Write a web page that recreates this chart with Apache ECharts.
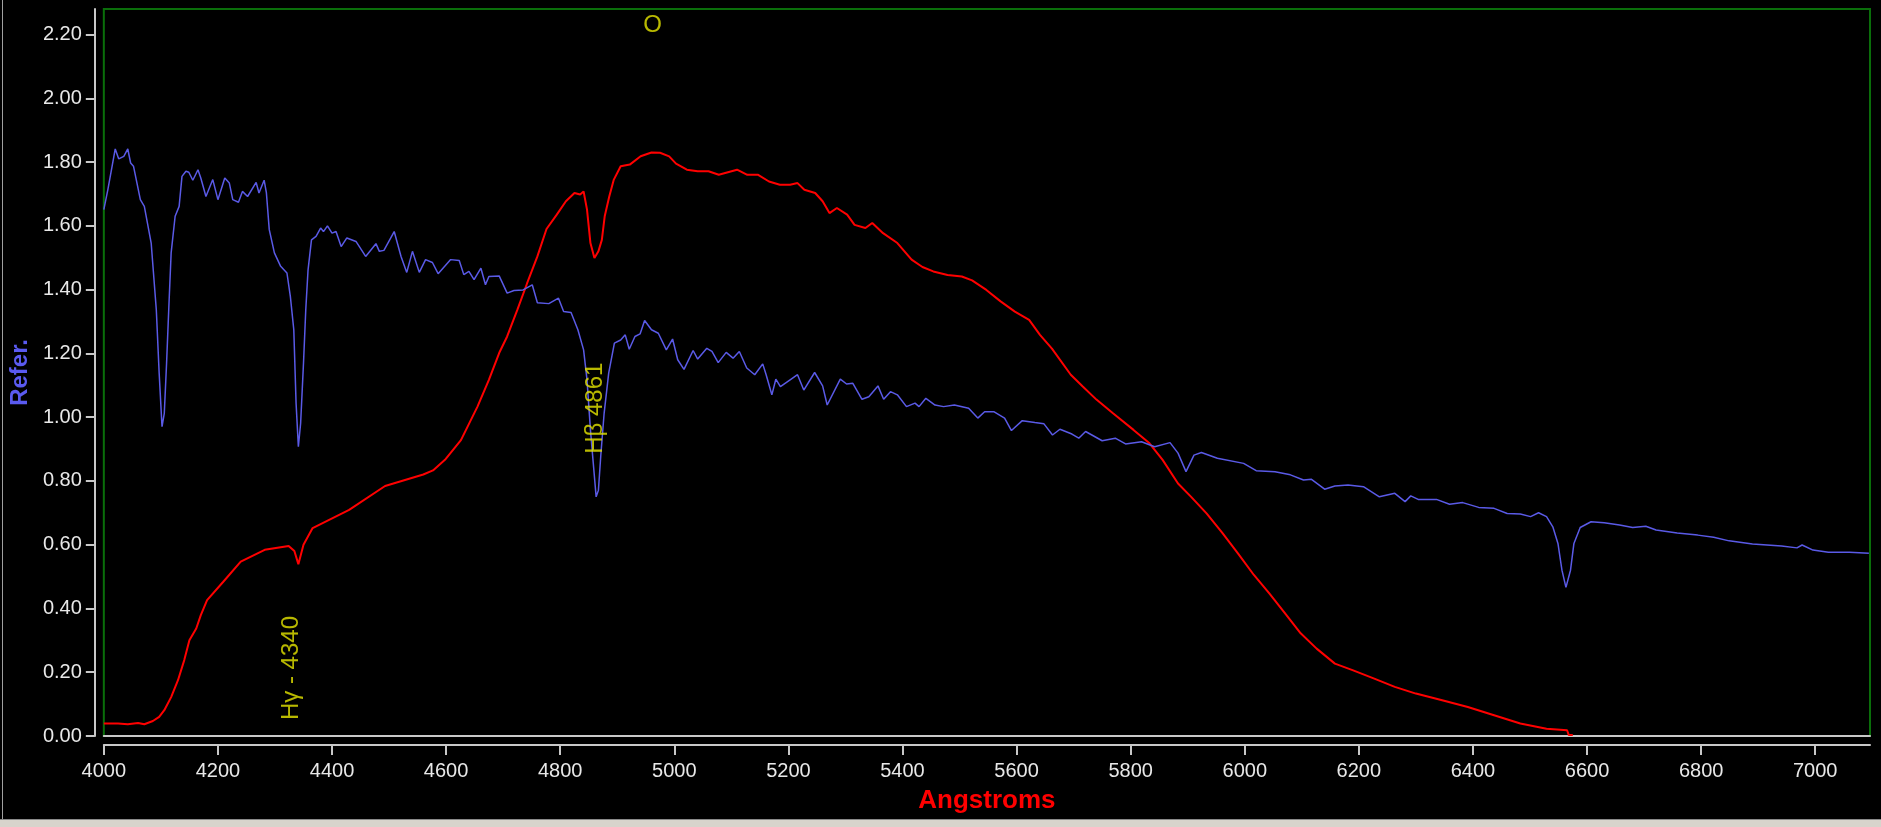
<!DOCTYPE html>
<html>
<head>
<meta charset="utf-8">
<title>Spectrum</title>
<script src="https://cdn.jsdelivr.net/npm/echarts@6/dist/echarts.min.js"></script>
<style>
  html, body { margin: 0; padding: 0; background: #000; }
  #chart { width: 1881px; height: 827px; }
</style>
</head>
<body>
<div id="chart"></div>
<script>
// reference spectrum (blue)
const refWave = [4000, 4007, 4020, 4026, 4035, 4042, 4047, 4052, 4064, 4071, 4083, 4092, 4097, 4102, 4106, 4110, 4114, 4118, 4125, 4132,
  4137, 4144, 4149, 4156, 4165, 4170, 4179, 4191, 4200, 4212, 4220, 4226, 4236, 4243, 4252, 4267, 4272, 4281, 4285, 4290,
  4299, 4310, 4321, 4327, 4333, 4337, 4341, 4345, 4350, 4354, 4358, 4364, 4372, 4380, 4385, 4392, 4400, 4407, 4416, 4426,
  4442, 4459, 4477, 4483, 4491, 4509, 4521, 4531, 4541, 4553, 4564, 4576, 4586, 4608, 4623, 4631, 4640, 4649, 4661, 4669,
  4675, 4693, 4707, 4719, 4735, 4751, 4760, 4780, 4797, 4806, 4819, 4831, 4841, 4847, 4853, 4858, 4863, 4867, 4871, 4877,
  4885, 4895, 4906, 4914, 4921, 4931, 4940, 4948, 4960, 4972, 4986, 4997, 5006, 5017, 5033, 5041, 5057, 5066, 5077, 5091,
  5103, 5114, 5127, 5141, 5155, 5161, 5171, 5178, 5186, 5203, 5216, 5227, 5246, 5260, 5268, 5291, 5302, 5313, 5329, 5341,
  5357, 5367, 5379, 5391, 5407, 5422, 5429, 5441, 5457, 5472, 5491, 5516, 5532, 5544, 5560, 5579, 5591, 5610, 5632, 5648,
  5663, 5676, 5697, 5709, 5721, 5750, 5773, 5791, 5819, 5842, 5869, 5883, 5897, 5911, 5924, 5952, 5998, 6020, 6053, 6080,
  6103, 6117, 6140, 6158, 6181, 6208, 6236, 6263, 6281, 6291, 6304, 6336, 6359, 6382, 6410, 6437, 6460, 6483, 6501, 6515,
  6529, 6540, 6549, 6556, 6563, 6571, 6577, 6588, 6607, 6630, 6657, 6680, 6703, 6721, 6758, 6794, 6822, 6849, 6890, 6941,
  6968, 6977, 6996, 7023, 7060, 7094];
const refFlux = [1.651, 1.713, 1.841, 1.810, 1.818, 1.841, 1.797, 1.787, 1.682, 1.661, 1.546, 1.337, 1.138, 0.970, 1.012, 1.169, 1.347, 1.515, 1.630, 1.661,
  1.755, 1.771, 1.768, 1.743, 1.776, 1.750, 1.692, 1.745, 1.682, 1.750, 1.734, 1.682, 1.674, 1.708, 1.692, 1.736, 1.703, 1.743, 1.703, 1.588,
  1.515, 1.473, 1.452, 1.378, 1.274, 1.044, 0.907, 0.981, 1.169, 1.337, 1.462, 1.556, 1.567, 1.593, 1.582, 1.600, 1.577, 1.582, 1.535, 1.562,
  1.551, 1.504, 1.544, 1.520, 1.523, 1.582, 1.504, 1.454, 1.520, 1.454, 1.494, 1.485, 1.450, 1.494, 1.491, 1.447, 1.457, 1.431, 1.467, 1.415,
  1.441, 1.443, 1.389, 1.397, 1.399, 1.415, 1.359, 1.356, 1.373, 1.331, 1.328, 1.274, 1.211, 1.117, 0.960, 0.855, 0.750, 0.771, 0.876, 1.012,
  1.138, 1.232, 1.242, 1.258, 1.213, 1.253, 1.261, 1.303, 1.274, 1.263, 1.211, 1.245, 1.180, 1.150, 1.209, 1.182, 1.216, 1.206, 1.171, 1.203,
  1.185, 1.206, 1.154, 1.133, 1.167, 1.133, 1.070, 1.119, 1.096, 1.117, 1.133, 1.085, 1.140, 1.098, 1.038, 1.119, 1.104, 1.106, 1.056, 1.064,
  1.098, 1.056, 1.080, 1.070, 1.033, 1.044, 1.033, 1.059, 1.038, 1.033, 1.038, 1.028, 0.997, 1.017, 1.017, 0.997, 0.958, 0.989, 0.983, 0.979,
  0.944, 0.962, 0.947, 0.934, 0.955, 0.926, 0.934, 0.916, 0.923, 0.907, 0.920, 0.887, 0.829, 0.881, 0.889, 0.871, 0.855, 0.832, 0.829, 0.819,
  0.803, 0.805, 0.774, 0.784, 0.787, 0.782, 0.750, 0.761, 0.735, 0.753, 0.742, 0.742, 0.727, 0.732, 0.717, 0.714, 0.698, 0.696, 0.688, 0.700,
  0.688, 0.656, 0.604, 0.520, 0.466, 0.520, 0.604, 0.654, 0.672, 0.669, 0.662, 0.654, 0.658, 0.646, 0.637, 0.630, 0.623, 0.612, 0.602, 0.596,
  0.590, 0.599, 0.583, 0.576, 0.576, 0.573];

// observed spectrum (red)
const obsWave = [4000, 4025, 4042, 4060, 4071, 4086, 4097, 4106, 4118, 4130, 4141, 4150, 4162, 4170, 4181, 4209, 4240, 4282, 4324, 4334,
  4341, 4350, 4366, 4430, 4493, 4560, 4577, 4598, 4626, 4655, 4675, 4693, 4707, 4725, 4742, 4760, 4776, 4794, 4810, 4825,
  4835, 4841, 4847, 4853, 4860, 4867, 4873, 4878, 4886, 4894, 4906, 4922, 4941, 4960, 4975, 4991, 5003, 5022, 5041, 5060,
  5078, 5110, 5128, 5147, 5166, 5185, 5203, 5216, 5228, 5247, 5260, 5272, 5285, 5303, 5316, 5335, 5347, 5366, 5391, 5416,
  5435, 5454, 5479, 5504, 5522, 5547, 5572, 5597, 5622, 5641, 5662, 5695, 5716, 5740, 5769, 5805, 5833, 5856, 5883, 5906,
  5933, 5961, 5988, 6016, 6043, 6071, 6098, 6126, 6158, 6190, 6227, 6263, 6300, 6346, 6391, 6437, 6483, 6529, 6565, 6568,
  6575];
const obsFlux = [0.039, 0.039, 0.037, 0.041, 0.037, 0.047, 0.060, 0.081, 0.122, 0.175, 0.238, 0.300, 0.337, 0.379, 0.426, 0.483, 0.547, 0.584, 0.596, 0.580,
  0.539, 0.600, 0.652, 0.709, 0.784, 0.820, 0.833, 0.866, 0.928, 1.033, 1.117, 1.201, 1.253, 1.337, 1.420, 1.504, 1.590, 1.635, 1.677, 1.703,
  1.698, 1.708, 1.651, 1.546, 1.499, 1.520, 1.556, 1.630, 1.692, 1.745, 1.787, 1.792, 1.818, 1.830, 1.829, 1.818, 1.795, 1.776, 1.771, 1.771,
  1.760, 1.776, 1.760, 1.760, 1.739, 1.729, 1.729, 1.734, 1.713, 1.703, 1.677, 1.640, 1.656, 1.635, 1.603, 1.593, 1.609, 1.577, 1.546, 1.494,
  1.471, 1.457, 1.446, 1.441, 1.429, 1.399, 1.363, 1.331, 1.305, 1.258, 1.215, 1.133, 1.096, 1.055, 1.012, 0.960, 0.918, 0.866, 0.792, 0.750,
  0.698, 0.636, 0.573, 0.505, 0.447, 0.384, 0.322, 0.274, 0.227, 0.206, 0.180, 0.154, 0.133, 0.112, 0.091, 0.065, 0.039, 0.023, 0.018, 0.003,
  0.003];

// line identifications
const lineNames = ['Hγ - 4340', 'Hβ 4861'];
const lineWave = [4328, 4862];
const lineBase = [0.05, 0.885];
const markText = 'O';
const markWave = 4962;
const markLevel = 2.23;

// axes
const xMin = 4000, xMax = 7096, xStep = 200;
const yMin = 0, yMax = 2.28, yStep = 0.2;

const font = 'Liberation Sans';
const tickColor = '#c8c8c8';
const labelColor = '#e8e8e8';

const chart = echarts.init(document.getElementById('chart'));

const pairs = (xs, ys) => xs.map((x, i) => [x, ys[i]]);

const options = {
  backgroundColor: '#000',
  animation: false,
  textStyle: { fontFamily: font },
  grid: {
    left: 102, right: 11, top: 9, bottom: 91,
    show: true, backgroundColor: '#000',
    borderColor: '#0a6e0a', borderWidth: 2
  },
  xAxis: [
    {
      type: 'value', min: xMin, max: xMax, interval: xStep,
      position: 'bottom', offset: 9,
      axisLine: { onZero: false, lineStyle: { color: tickColor, width: 2 } },
      axisTick: { length: 10, lineStyle: { color: tickColor, width: 2 } },
      axisLabel: {
        color: labelColor, fontSize: 20, margin: 16, fontFamily: font,
        showMaxLabel: false, formatter: v => String(v)
      },
      splitLine: { show: false },
      name: 'Angstroms', nameLocation: 'middle', nameGap: 43,
      nameTextStyle: { color: '#ff0000', fontSize: 26, fontWeight: 'bold', fontFamily: font }
    },
    {
      type: 'value', min: xMin, max: xMax, position: 'bottom', offset: 0,
      axisLine: { onZero: false, lineStyle: { color: tickColor, width: 2 } },
      axisTick: { show: false }, axisLabel: { show: false }, splitLine: { show: false }
    }
  ],
  yAxis: {
    type: 'value', min: yMin, max: yMax, interval: yStep,
    position: 'left', offset: 9,
    axisLine: { show: true, onZero: false, lineStyle: { color: tickColor, width: 2 } },
    axisTick: { show: true, length: 9, lineStyle: { color: tickColor, width: 2 } },
    axisLabel: {
      color: labelColor, fontSize: 20, margin: 13, fontFamily: font,
      showMaxLabel: false, formatter: v => v.toFixed(2)
    },
    splitLine: { show: false },
    name: 'Refer.', nameLocation: 'middle', nameRotate: 90, nameGap: 57,
    nameTextStyle: { color: '#5a5af0', fontSize: 24, fontWeight: 'bold', fontFamily: font }
  },
  series: [
    {
      name: 'Observed', type: 'line', data: pairs(obsWave, obsFlux),
      showSymbol: false, lineStyle: { color: '#ff0000', width: 2 }, z: 3
    },
    {
      name: 'Reference', type: 'line', data: pairs(refWave, refFlux),
      showSymbol: false, lineStyle: { color: '#5a5ae6', width: 1.5 }, z: 4
    },
    {
      name: 'Lines', type: 'scatter', symbolSize: 0, z: 5,
      data: lineNames.map((n, i) => ({ value: [lineWave[i], lineBase[i]], name: n })),
      label: {
        show: true, position: 'inside', rotate: 90, align: 'left', verticalAlign: 'middle',
        formatter: p => p.name, color: '#e6e600', fontSize: 24, fontFamily: font
      }
    },
    {
      name: 'Mark', type: 'scatter', symbolSize: 0, z: 5,
      data: [{ value: [markWave, markLevel], name: markText }],
      label: {
        show: true, position: 'inside', align: 'center', verticalAlign: 'middle',
        formatter: p => p.name, color: '#e6e600', fontSize: 24, fontFamily: font
      }
    }
  ],
  graphic: [
    { type: 'rect', shape: { x: 2, y: 0, width: 1, height: 820 }, style: { fill: '#a0a0a0' }, silent: true },
    { type: 'rect', shape: { x: 0, y: 820, width: 1881, height: 7 }, style: { fill: '#d8d4cc' }, silent: true },
    { type: 'rect', shape: { x: 0, y: 819, width: 1881, height: 1 }, style: { fill: '#8a8a8a' }, silent: true }
  ]
};

chart.setOption(options);
window.addEventListener('resize', () => chart.resize());
</script>
</body>
</html>
